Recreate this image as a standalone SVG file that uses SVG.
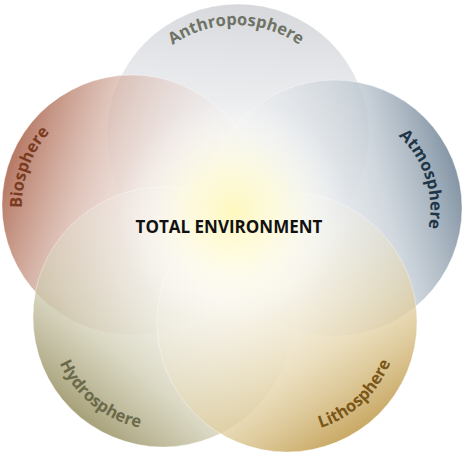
<svg xmlns="http://www.w3.org/2000/svg" width="474" height="459" viewBox="0 0 474 459">
<defs>
<style>
.lbl{font-family:"Open Sans","Noto Sans","Liberation Sans",sans-serif;font-weight:bold;font-size:16.5px}
.ring{stroke:#ffffff;stroke-opacity:0.35;stroke-width:1}
</style>
<linearGradient id="gA" gradientUnits="userSpaceOnUse" x1="247" y1="4" x2="228" y2="270">
<stop offset="0" stop-color="#d4d6da" stop-opacity="0.95"/>
<stop offset="0.4" stop-color="#e6e7ea" stop-opacity="0.7"/>
<stop offset="1" stop-color="#ffffff" stop-opacity="0"/>
</linearGradient>
<linearGradient id="gB" gradientUnits="userSpaceOnUse" x1="8" y1="165" x2="255" y2="245">
<stop offset="0" stop-color="#b2715c" stop-opacity="0.95"/>
<stop offset="0.3" stop-color="#d3aea0" stop-opacity="0.7"/>
<stop offset="0.7" stop-color="#f0e6e2" stop-opacity="0.3"/>
<stop offset="1" stop-color="#ffffff" stop-opacity="0"/>
</linearGradient>
<linearGradient id="gT" gradientUnits="userSpaceOnUse" x1="457" y1="173" x2="211" y2="243">
<stop offset="0" stop-color="#7e90a1" stop-opacity="0.95"/>
<stop offset="0.3" stop-color="#bcc6cf" stop-opacity="0.7"/>
<stop offset="0.7" stop-color="#e8ecef" stop-opacity="0.3"/>
<stop offset="1" stop-color="#ffffff" stop-opacity="0"/>
</linearGradient>
<linearGradient id="gH" gradientUnits="userSpaceOnUse" x1="79" y1="416" x2="247" y2="218">
<stop offset="0" stop-color="#a29c72" stop-opacity="0.95"/>
<stop offset="0.3" stop-color="#cfcbb0" stop-opacity="0.7"/>
<stop offset="0.7" stop-color="#efeee4" stop-opacity="0.3"/>
<stop offset="1" stop-color="#ffffff" stop-opacity="0"/>
</linearGradient>
<linearGradient id="gL" gradientUnits="userSpaceOnUse" x1="358" y1="431" x2="216" y2="213">
<stop offset="0" stop-color="#c6a45c" stop-opacity="0.95"/>
<stop offset="0.3" stop-color="#e0cd9c" stop-opacity="0.7"/>
<stop offset="0.7" stop-color="#f5eedb" stop-opacity="0.3"/>
<stop offset="1" stop-color="#ffffff" stop-opacity="0"/>
</linearGradient>
<radialGradient id="gY" gradientUnits="userSpaceOnUse" cx="234" cy="212" r="115">
<stop offset="0" stop-color="#fff7b0" stop-opacity="0.8"/>
<stop offset="0.4" stop-color="#fffbd0" stop-opacity="0.6"/>
<stop offset="0.75" stop-color="#fffdf0" stop-opacity="0.25"/>
<stop offset="1" stop-color="#ffffff" stop-opacity="0"/>
</radialGradient>
<path id="pA" d="M 126 135 A 110 110 0 0 1 346 135"/>
<path id="pB" d="M 94.4 308.4 A 110 110 0 0 1 169.6 101.6"/>
<path id="pT" d="M 303 113 A 100 100 0 0 1 365 303"/>
<path id="pH" d="M 75 246 A 113 113 0 0 0 251 388"/>
<path id="pL" d="M 206 398 A 111 111 0 0 0 368 246"/>
</defs>
<rect width="474" height="459" fill="#ffffff"/>
<g id="anthroposphere">
<circle class="ring" cx="238" cy="135" r="131" fill="url(#gA)"/>
</g>
<g id="biosphere">
<circle class="ring" cx="132" cy="205" r="130" fill="url(#gB)"/>
</g>
<g id="atmosphere">
<circle class="ring" cx="334" cy="208" r="128" fill="url(#gT)"/>
</g>
<g id="hydrosphere">
<circle class="ring" cx="163" cy="317" r="130" fill="url(#gH)"/>
</g>
<g id="lithosphere">
<circle class="ring" cx="287" cy="322" r="130" fill="url(#gL)"/>
</g>
<g id="total-environment">
<circle cx="234" cy="212" r="115" fill="url(#gY)"/>
<text x="229" y="233" text-anchor="middle" font-family="'Open Sans','Noto Sans','Liberation Sans',sans-serif" font-weight="bold" font-size="17" fill="#111111">TOTAL ENVIRONMENT</text>
</g>
<g id="labels">
<text class="lbl" fill="#6f7366"><textPath href="#pA" startOffset="50%" text-anchor="middle">Anthroposphere</textPath></text>
<text class="lbl" fill="#7b3b20"><textPath href="#pB" startOffset="50%" text-anchor="middle">Biosphere</textPath></text>
<text class="lbl" fill="#1e3547"><textPath href="#pT" startOffset="50%" text-anchor="middle">Atmosphere</textPath></text>
<text class="lbl" fill="#6b6a4a"><textPath href="#pH" startOffset="50%" text-anchor="middle">Hydrosphere</textPath></text>
<text class="lbl" fill="#7a5618"><textPath href="#pL" startOffset="50%" text-anchor="middle">Lithosphere</textPath></text>
</g>
</svg>
